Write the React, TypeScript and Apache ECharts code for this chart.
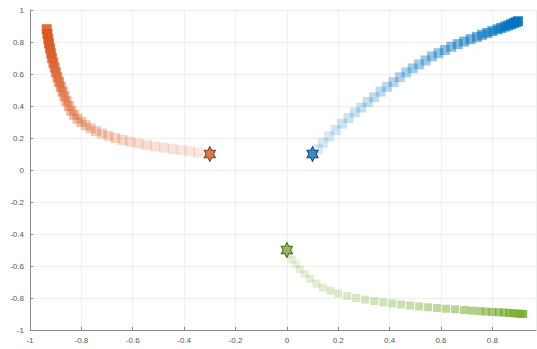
import React, { useEffect, useRef } from "react";
import * as echarts from "echarts";

const orangeX = [-0.935,-0.932,-0.929,-0.926,-0.922,-0.918,-0.914,-0.909,-0.904,-0.899,-0.893,-0.887,-0.880,-0.873,-0.866,-0.858,-0.849,-0.839,-0.828,-0.815,-0.800,-0.783,-0.764,-0.743,-0.720,-0.695,-0.668,-0.640,-0.610,-0.578,-0.545,-0.512,-0.478,-0.444,-0.410,-0.377,-0.345];
const orangeY = [0.88,0.85,0.82,0.79,0.76,0.73,0.70,0.67,0.64,0.61,0.58,0.55,0.52,0.49,0.46,0.43,0.40,0.37,0.345,0.32,0.30,0.28,0.26,0.243,0.228,0.213,0.200,0.188,0.177,0.166,0.156,0.147,0.139,0.131,0.124,0.117,0.110];

const blueX = [0.12,0.14,0.165,0.19,0.215,0.24,0.265,0.29,0.315,0.34,0.365,0.39,0.415,0.44,0.465,0.49,0.515,0.54,0.565,0.59,0.615,0.64,0.665,0.69,0.715,0.74,0.76,0.78,0.80,0.82,0.835,0.85,0.862,0.873,0.883,0.892,0.9];
const blueY = [0.13,0.17,0.21,0.25,0.29,0.325,0.36,0.39,0.425,0.455,0.49,0.52,0.55,0.58,0.61,0.635,0.66,0.685,0.71,0.73,0.75,0.77,0.787,0.803,0.818,0.832,0.845,0.857,0.868,0.879,0.888,0.897,0.904,0.911,0.918,0.924,0.93];

const greenX = [0.01,0.02,0.035,0.05,0.07,0.09,0.115,0.14,0.17,0.2,0.235,0.27,0.305,0.34,0.375,0.41,0.445,0.48,0.515,0.55,0.585,0.62,0.655,0.69,0.72,0.75,0.775,0.80,0.825,0.845,0.865,0.88,0.895,0.91,0.92];
const greenY = [-0.53,-0.56,-0.59,-0.62,-0.65,-0.68,-0.71,-0.735,-0.755,-0.772,-0.787,-0.80,-0.81,-0.819,-0.827,-0.834,-0.841,-0.847,-0.853,-0.858,-0.863,-0.867,-0.871,-0.875,-0.879,-0.882,-0.885,-0.887,-0.889,-0.891,-0.893,-0.895,-0.897,-0.898,-0.9];

const starPoints = [
  { name: "orange", x: -0.3, y: 0.1 },
  { name: "blue", x: 0.1, y: 0.1 },
  { name: "green", x: 0, y: -0.5 },
];

const COLORS: Record<string, string> = { orange: "#D95319", blue: "#0072BD", green: "#77AC30" };
const EDGES: Record<string, string> = { orange: "#4a2410", blue: "#0a2447", green: "#2a4010" };

const HEX = "path://M10 0 L12.89 5 L18.66 5 L15.77 10 L18.66 15 L12.89 15 L10 20 L7.11 15 L1.34 15 L4.23 10 L1.34 5 L7.11 5 Z";

function trail(xs: number[], ys: number[], color: string, descending: boolean, lo: number, hi: number) {
  const n = xs.length;
  return xs.map((x, i) => {
    const t = n > 1 ? i / (n - 1) : 0;
    const f = descending ? 1 - t : t;
    return { value: [x, ys[i]], itemStyle: { color, opacity: lo + (hi - lo) * Math.pow(f, 1.5) } };
  });
}

export default function App() {
  const ref = useRef<HTMLDivElement>(null);
  useEffect(() => {
    if (!ref.current) return;
    const chart = echarts.init(ref.current, undefined, { renderer: "svg" });
    const axisCommon = {
      type: "value" as const,
      interval: 0.2,
      axisLine: { show: true, onZero: false, lineStyle: { color: "#8a8a8a", width: 1 } },
      axisTick: { show: true, inside: true, length: 3, lineStyle: { color: "#8a8a8a" } },
      splitLine: { show: true, lineStyle: { color: "#efefef", width: 1 } },
      axisLabel: {
        color: "#555",
        fontSize: 8,
        fontFamily: "Liberation Sans, Arial, sans-serif",
        showMaxLabel: false,
        formatter: (v: number) => {
          const r = Math.round(v * 10) / 10;
          return String(r);
        },
      },
    };
    chart.setOption({
      animation: false,
      backgroundColor: "#ffffff",
      grid: { left: 30, right: 1, top: 10, bottom: 19, containLabel: false },
      xAxis: { ...axisCommon, min: -1, max: 0.97, axisLabel: { ...axisCommon.axisLabel, margin: 6 } },
      yAxis: { ...axisCommon, min: -1, max: 1, axisLabel: { ...axisCommon.axisLabel, showMaxLabel: true, margin: 6 } },
      series: [
        {
          type: "scatter",
          symbol: "rect",
          symbolSize: 10,
          data: trail(orangeX, orangeY, COLORS.orange, true, 0.14, 0.85),
        },
        {
          type: "scatter",
          symbol: "rect",
          symbolSize: 10,
          data: trail(blueX, blueY, COLORS.blue, false, 0.16, 0.85),
        },
        {
          type: "scatter",
          symbol: "rect",
          symbolSize: 8,
          data: trail(greenX, greenY, COLORS.green, false, 0.16, 0.85),
        },
        {
          type: "scatter",
          symbol: HEX,
          symbolSize: [13, 15],
          symbolKeepAspect: true,
          z: 5,
          data: starPoints.map((p) => ({
            value: [p.x, p.y],
            itemStyle: { color: COLORS[p.name], borderColor: EDGES[p.name], borderWidth: 1 },
          })),
        },
      ],
    });
    return () => chart.dispose();
  }, []);
  return (
    <div
      ref={ref}
      style={{ position: "fixed", left: 0, top: 0, width: 537, height: 349, background: "#fff" }}
    />
  );
}
